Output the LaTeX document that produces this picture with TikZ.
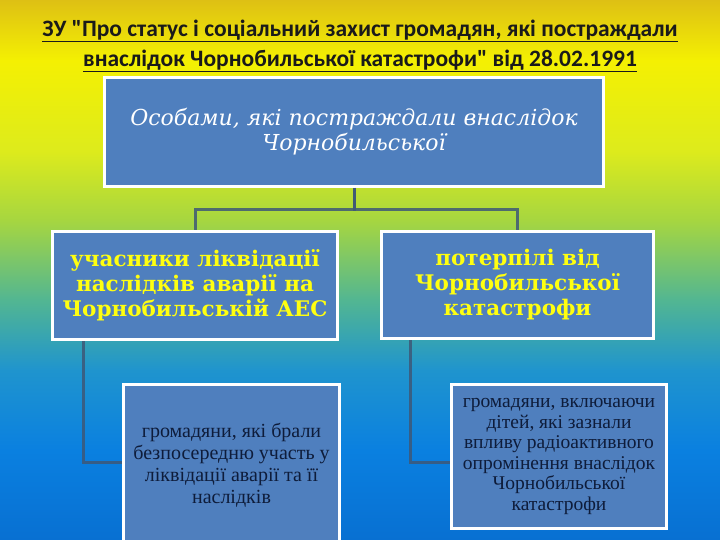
\documentclass[tikz,border=0pt]{standalone}
\usepackage{fontspec}
\setmainfont{Liberation Serif}
\newfontfamily\titlefont{Carlito}
\newfontfamily\boxfont{DejaVu Serif}
\usetikzlibrary{calc}
\definecolor{c0}{HTML}{DEC014}
\definecolor{c1}{HTML}{F4F002}
\definecolor{c2}{HTML}{DDEB1C}
\definecolor{c3}{HTML}{A6D640}
\definecolor{c4}{HTML}{52B692}
\definecolor{c5}{HTML}{1F94CE}
\definecolor{c6}{HTML}{0A80E0}
\definecolor{c7}{HTML}{0870D2}
\definecolor{boxblue}{HTML}{4F7FBE}
\definecolor{linkcol}{HTML}{3E5877}
\definecolor{titlecol}{HTML}{1A1A1A}
\definecolor{navytext}{HTML}{0E1C3A}
\definecolor{yel}{HTML}{FFFF10}
\pgfdeclareverticalshading{bgsh}{100bp}{color(0bp)=(c7); color(25bp)=(c7); color(33.3bp)=(c6); color(40.7bp)=(c5); color(47.2bp)=(c4); color(54.6bp)=(c3); color(61bp)=(c2); color(69.4bp)=(c1); color(75bp)=(c0); color(100bp)=(c0)}
\tikzset{
  card/.style={draw=white, line width=3pt, fill=boxblue, align=center, inner sep=2pt},
  link/.style={draw=linkcol, line width=3pt, opacity=0.85},
}
\begin{document}
\begin{tikzpicture}[x=1pt,y=-1pt]
\useasboundingbox (0,0) rectangle (720,540);
\clip (0,0) rectangle (720,540);
\shade[shading=bgsh] (0,0) rectangle (720,540);
% title
\node[font=\titlefont\bfseries\fontsize{23.5}{30}\selectfont, text=titlecol, align=center] (title) at (360,46)
  {\underline{ЗУ "Про статус і соціальний захист громадян, які постраждали}\\
   \underline{внаслідок Чорнобильської катастрофи" від 28.02.1991}};
% boxes
\node[card, minimum width=499, minimum height=109, text=white,
  font=\boxfont\itshape\fontsize{22}{25}\selectfont] (top) at (354,132)
  {Особами, які постраждали внаслідок\\ Чорнобильської};
\node[card, minimum width=285, minimum height=108, text=yel,
  font=\boxfont\bfseries\fontsize{21.5}{25}\selectfont] (lm) at (195,285.5)
  {учасники ліквідації\\ наслідків аварії на\\ Чорнобильській АЕС};
\node[card, minimum width=272, minimum height=107, text=yel,
  font=\boxfont\bfseries\fontsize{21.5}{25}\selectfont] (rm) at (517.5,285)
  {потерпілі від\\ Чорнобильської\\ катастрофи};
\node[card, minimum width=216, minimum height=162, text=navytext,
  font=\fontsize{20}{22}\selectfont] (lb) at (231.5,465.5)
  {громадяни, які брали\\ безпосередню участь у\\ ліквідації аварії та її\\ наслідків};
\node[card, minimum width=215, minimum height=144, text=navytext, inner sep=1pt,
  font=\fontsize{19.5}{20.6}\selectfont] (rb) at (559,456.5)
  {громадяни, включаючи\\ дітей, які зазнали\\ впливу радіоактивного\\ опромінення внаслідок\\ Чорнобильської\\ катастрофи};
% connectors
\draw[link] (top.south) -- ++(0,22) -| (lm.north);
\draw[link] (top.south) -- ++(0,22) -| (rm.north);
\draw[link] ($(lm.south west)+(32,0)$) |- ($(lb.west)+(0,-3)$);
\draw[link] ($(rm.south west)+(30,0)$) |- ($(rb.west)+(0,5.5)$);
\end{tikzpicture}
\end{document}
